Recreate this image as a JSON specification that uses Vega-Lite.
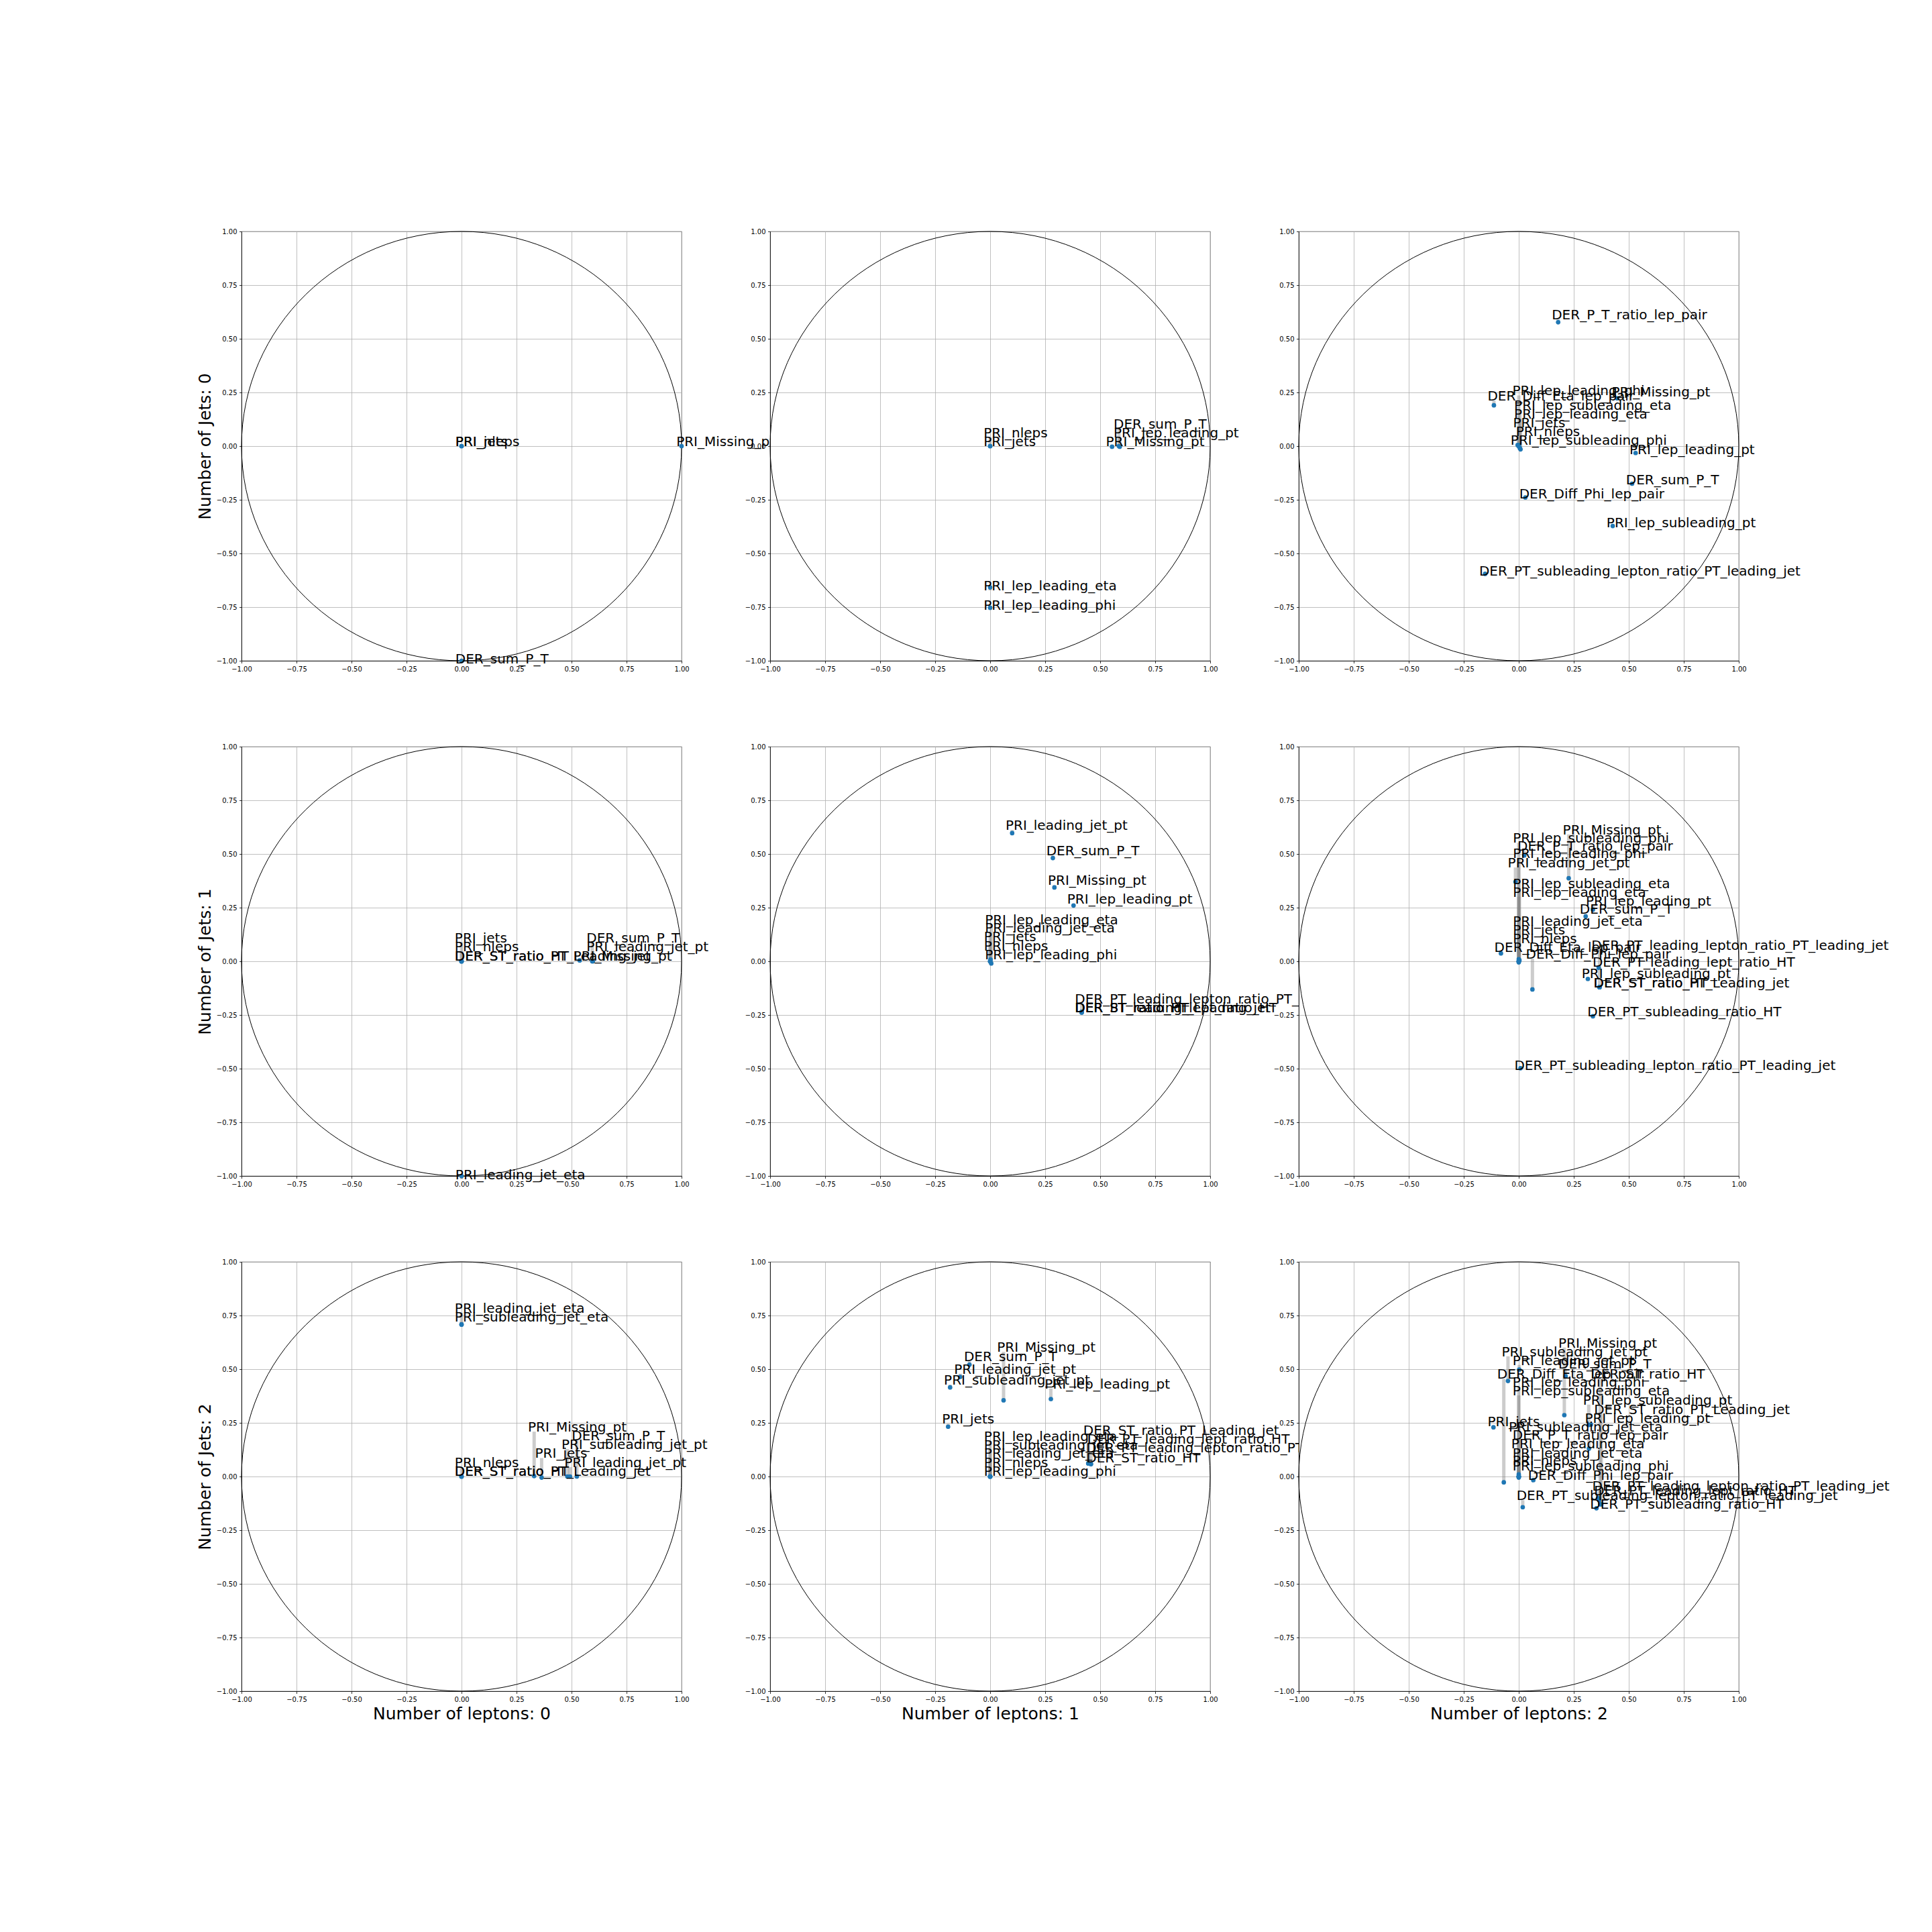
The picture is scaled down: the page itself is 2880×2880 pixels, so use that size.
{
"$schema":"https://vega.github.io/schema/vega-lite/v6.json",
"background":"white",
"padding":{"left":292,"top":339,"right":5,"bottom":5},
"bounds":"flush",
"columns":3,
"spacing":{"row":128,"column":132},
"config":{
 "font":"DejaVu Sans",
 "view":{"stroke":"black","strokeWidth":0.8,"fill":"white"},
 "axis":{"grid":true,"gridColor":"#b0b0b0","gridWidth":0.8,"gridOpacity":1,"domainColor":"black","domainWidth":0.8,"tickColor":"black","tickWidth":0.8,"tickSize":3.5,"labelPadding":3.5,"labelFontSize":10,"labelColor":"black","labelFont":"DejaVu Sans","titleFont":"DejaVu Sans","titleFontSize":25,"titleFontWeight":"normal","titleColor":"black","titlePadding":4,"labelFlush":false,"labelOverlap":false,"labelBound":false}
},
"datasets":{
"ring":[{"cx":0,"cy":0}],
"pts":[
{"p":"j0l0","v":"PRI_jets","x":0,"y":0,"lx":-0.028,"ly":0.0},
{"p":"j0l0","v":"PRI_nleps","x":0,"y":0,"lx":-0.028,"ly":0.0},
{"p":"j0l0","v":"PRI_Missing_pt","x":1.0,"y":0,"lx":0.976,"ly":0.0},
{"p":"j0l0","v":"DER_sum_P_T","x":0,"y":-1,"lx":-0.028,"ly":-1.012},
{"p":"j0l1","v":"PRI_nleps","x":0,"y":0,"lx":-0.03,"ly":0.04},
{"p":"j0l1","v":"PRI_jets","x":0,"y":0,"lx":-0.03,"ly":0.0},
{"p":"j0l1","v":"PRI_lep_leading_eta","x":0,"y":-0.658,"lx":-0.03,"ly":-0.672},
{"p":"j0l1","v":"PRI_lep_leading_phi","x":0,"y":-0.753,"lx":-0.03,"ly":-0.763},
{"p":"j0l1","v":"PRI_Missing_pt","x":0.554,"y":-0.003,"lx":0.526,"ly":0.0},
{"p":"j0l1","v":"PRI_lep_leading_pt","x":0.589,"y":-0.003,"lx":0.561,"ly":0.04},
{"p":"j0l1","v":"DER_sum_P_T","x":0.585,"y":0.0,"lx":0.561,"ly":0.082},
{"p":"j0l2","v":"DER_P_T_ratio_lep_pair","x":0.179,"y":0.577,"lx":0.15,"ly":0.592},
{"p":"j0l2","v":"DER_Diff_Eta_lep_pair","x":-0.113,"y":0.19,"lx":-0.142,"ly":0.212},
{"p":"j0l2","v":"PRI_lep_leading_phi","x":0.0,"y":0.005,"lx":-0.029,"ly":0.236},
{"p":"j0l2","v":"PRI_Missing_pt","x":0.447,"y":0.223,"lx":0.422,"ly":0.232},
{"p":"j0l2","v":"PRI_lep_subleading_eta","x":0.005,"y":-0.01,"lx":-0.021,"ly":0.17},
{"p":"j0l2","v":"PRI_lep_leading_eta","x":0.008,"y":-0.015,"lx":-0.021,"ly":0.128},
{"p":"j0l2","v":"PRI_jets","x":0,"y":0,"lx":-0.026,"ly":0.089},
{"p":"j0l2","v":"PRI_nleps","x":0,"y":0,"lx":-0.013,"ly":0.047},
{"p":"j0l2","v":"PRI_lep_subleading_phi","x":-0.005,"y":0.005,"lx":-0.037,"ly":0.006},
{"p":"j0l2","v":"PRI_lep_leading_pt","x":0.531,"y":-0.032,"lx":0.503,"ly":-0.036},
{"p":"j0l2","v":"DER_sum_P_T","x":0.515,"y":-0.175,"lx":0.487,"ly":-0.179},
{"p":"j0l2","v":"DER_Diff_Phi_lep_pair","x":0.03,"y":-0.239,"lx":0.002,"ly":-0.243},
{"p":"j0l2","v":"PRI_lep_subleading_pt","x":0.427,"y":-0.372,"lx":0.399,"ly":-0.378},
{"p":"j0l2","v":"DER_PT_subleading_lepton_ratio_PT_leading_jet","x":-0.153,"y":-0.595,"lx":-0.18,"ly":-0.602},
{"p":"j1l0","v":"PRI_jets","x":0,"y":0,"lx":-0.031,"ly":0.089},
{"p":"j1l0","v":"PRI_nleps","x":0,"y":0,"lx":-0.031,"ly":0.047},
{"p":"j1l0","v":"DER_ST_ratio_HT","x":0,"y":0,"lx":-0.031,"ly":0.002},
{"p":"j1l0","v":"DER_ST_ratio_PT_Leading_jet","x":0,"y":0,"lx":-0.031,"ly":0.002},
{"p":"j1l0","v":"PRI_Missing_pt","x":0.537,"y":0.004,"lx":0.508,"ly":0.002},
{"p":"j1l0","v":"PRI_leading_jet_pt","x":0.597,"y":0.0,"lx":0.568,"ly":0.047},
{"p":"j1l0","v":"DER_sum_P_T","x":0.594,"y":0.0,"lx":0.568,"ly":0.089},
{"p":"j1l0","v":"PRI_leading_jet_eta","x":0,"y":-1,"lx":-0.028,"ly":-1.015},
{"p":"j1l1","v":"PRI_leading_jet_pt","x":0.1,"y":0.597,"lx":0.07,"ly":0.612},
{"p":"j1l1","v":"DER_sum_P_T","x":0.285,"y":0.481,"lx":0.255,"ly":0.493},
{"p":"j1l1","v":"PRI_Missing_pt","x":0.292,"y":0.344,"lx":0.262,"ly":0.355},
{"p":"j1l1","v":"PRI_lep_leading_pt","x":0.379,"y":0.26,"lx":0.35,"ly":0.269},
{"p":"j1l1","v":"PRI_lep_leading_eta","x":0.005,"y":-0.01,"lx":-0.024,"ly":0.172},
{"p":"j1l1","v":"PRI_leading_jet_eta","x":0,"y":0,"lx":-0.024,"ly":0.133},
{"p":"j1l1","v":"PRI_jets","x":0,"y":0,"lx":-0.028,"ly":0.093},
{"p":"j1l1","v":"PRI_nleps","x":0,"y":0,"lx":-0.028,"ly":0.05},
{"p":"j1l1","v":"PRI_lep_leading_phi","x":0.002,"y":0.008,"lx":-0.024,"ly":0.008},
{"p":"j1l1","v":"DER_PT_leading_lepton_ratio_PT_leading_jet","x":0.416,"y":-0.235,"lx":0.385,"ly":-0.197},
{"p":"j1l1","v":"DER_PT_leading_lept_ratio_HT","x":0.416,"y":-0.239,"lx":0.385,"ly":-0.237},
{"p":"j1l1","v":"DER_ST_ratio_PT_Leading_jet","x":0.416,"y":-0.237,"lx":0.385,"ly":-0.237},
{"p":"j1l1","v":"DER_ST_ratio_HT","x":0.416,"y":-0.237,"lx":0.385,"ly":-0.237},
{"p":"j1l2","v":"PRI_Missing_pt","x":0.227,"y":0.387,"lx":0.2,"ly":0.591},
{"p":"j1l2","v":"PRI_lep_subleading_phi","x":0.0,"y":0.01,"lx":-0.027,"ly":0.552},
{"p":"j1l2","v":"DER_P_T_ratio_lep_pair","x":0.025,"y":0.493,"lx":-0.006,"ly":0.517},
{"p":"j1l2","v":"PRI_lep_leading_phi","x":0.0,"y":-0.005,"lx":-0.027,"ly":0.48},
{"p":"j1l2","v":"PRI_leading_jet_pt","x":-0.015,"y":0.37,"lx":-0.05,"ly":0.437},
{"p":"j1l2","v":"PRI_lep_subleading_eta","x":0.003,"y":0.005,"lx":-0.027,"ly":0.34},
{"p":"j1l2","v":"PRI_lep_leading_eta","x":0,"y":0,"lx":-0.027,"ly":0.301},
{"p":"j1l2","v":"PRI_lep_leading_pt","x":0.337,"y":0.241,"lx":0.305,"ly":0.26},
{"p":"j1l2","v":"DER_sum_P_T","x":0.304,"y":0.209,"lx":0.277,"ly":0.221},
{"p":"j1l2","v":"PRI_leading_jet_eta","x":0,"y":0,"lx":-0.027,"ly":0.165},
{"p":"j1l2","v":"PRI_jets","x":0,"y":0,"lx":-0.027,"ly":0.126},
{"p":"j1l2","v":"PRI_nleps","x":0,"y":0,"lx":-0.027,"ly":0.084},
{"p":"j1l2","v":"DER_Diff_Eta_lep_pair","x":-0.081,"y":0.037,"lx":-0.111,"ly":0.043},
{"p":"j1l2","v":"DER_PT_leading_lepton_ratio_PT_leading_jet","x":0.367,"y":-0.12,"lx":0.33,"ly":0.054},
{"p":"j1l2","v":"DER_Diff_Phi_lep_pair","x":0.062,"y":-0.131,"lx":0.032,"ly":0.012},
{"p":"j1l2","v":"DER_PT_leading_lept_ratio_HT","x":0.363,"y":-0.03,"lx":0.335,"ly":-0.026},
{"p":"j1l2","v":"PRI_lep_subleading_pt","x":0.314,"y":-0.082,"lx":0.286,"ly":-0.079},
{"p":"j1l2","v":"DER_ST_ratio_HT","x":0.367,"y":-0.121,"lx":0.34,"ly":-0.121},
{"p":"j1l2","v":"DER_ST_ratio_PT_Leading_jet","x":0.367,"y":-0.121,"lx":0.34,"ly":-0.121},
{"p":"j1l2","v":"DER_PT_subleading_ratio_HT","x":0.337,"y":-0.256,"lx":0.312,"ly":-0.256},
{"p":"j1l2","v":"DER_PT_subleading_lepton_ratio_PT_leading_jet","x":0.008,"y":-0.498,"lx":-0.02,"ly":-0.505},
{"p":"j2l0","v":"PRI_leading_jet_eta","x":0,"y":0.708,"lx":-0.031,"ly":0.763},
{"p":"j2l0","v":"PRI_subleading_jet_eta","x":0,"y":0.708,"lx":-0.031,"ly":0.721},
{"p":"j2l0","v":"PRI_Missing_pt","x":0.33,"y":0.002,"lx":0.302,"ly":0.209},
{"p":"j2l0","v":"DER_sum_P_T","x":0.524,"y":0.0,"lx":0.501,"ly":0.17},
{"p":"j2l0","v":"PRI_subleading_jet_pt","x":0.481,"y":0.0,"lx":0.454,"ly":0.128},
{"p":"j2l0","v":"PRI_jets","x":0.364,"y":-0.005,"lx":0.334,"ly":0.086},
{"p":"j2l0","v":"PRI_leading_jet_pt","x":0.493,"y":0.0,"lx":0.467,"ly":0.044},
{"p":"j2l0","v":"PRI_nleps","x":0,"y":0,"lx":-0.031,"ly":0.044},
{"p":"j2l0","v":"DER_ST_ratio_HT","x":0,"y":0,"lx":-0.031,"ly":0.002},
{"p":"j2l0","v":"DER_ST_ratio_PT_Leading_jet","x":0,"y":0,"lx":-0.031,"ly":0.002},
{"p":"j2l1","v":"PRI_Missing_pt","x":0.061,"y":0.355,"lx":0.031,"ly":0.581},
{"p":"j2l1","v":"DER_sum_P_T","x":-0.094,"y":0.521,"lx":-0.119,"ly":0.537},
{"p":"j2l1","v":"PRI_leading_jet_pt","x":-0.136,"y":0.464,"lx":-0.164,"ly":0.479},
{"p":"j2l1","v":"PRI_subleading_jet_pt","x":-0.182,"y":0.415,"lx":-0.21,"ly":0.428},
{"p":"j2l1","v":"PRI_lep_leading_pt","x":0.276,"y":0.361,"lx":0.248,"ly":0.41},
{"p":"j2l1","v":"PRI_jets","x":-0.191,"y":0.232,"lx":-0.219,"ly":0.246},
{"p":"j2l1","v":"PRI_lep_leading_eta","x":0,"y":0,"lx":-0.028,"ly":0.165},
{"p":"j2l1","v":"PRI_subleading_jet_eta","x":0,"y":0,"lx":-0.028,"ly":0.125},
{"p":"j2l1","v":"PRI_leading_jet_eta","x":0,"y":0,"lx":-0.028,"ly":0.086},
{"p":"j2l1","v":"PRI_nleps","x":0,"y":0,"lx":-0.028,"ly":0.044},
{"p":"j2l1","v":"PRI_lep_leading_phi","x":0,"y":0,"lx":-0.028,"ly":0.002},
{"p":"j2l1","v":"DER_ST_ratio_PT_Leading_jet","x":0.446,"y":0.061,"lx":0.423,"ly":0.195},
{"p":"j2l1","v":"DER_PT_leading_lept_ratio_HT","x":0.446,"y":0.061,"lx":0.441,"ly":0.153},
{"p":"j2l1","v":"DER_PT_leading_lepton_ratio_PT_leading_jet","x":0.458,"y":0.058,"lx":0.437,"ly":0.111},
{"p":"j2l1","v":"DER_ST_ratio_HT","x":0.458,"y":0.058,"lx":0.437,"ly":0.065},
{"p":"j2l2","v":"PRI_Missing_pt","x":0.207,"y":0.286,"lx":0.18,"ly":0.601},
{"p":"j2l2","v":"PRI_subleading_jet_pt","x":-0.049,"y":0.445,"lx":-0.078,"ly":0.56},
{"p":"j2l2","v":"PRI_leading_jet_pt","x":0.002,"y":0.498,"lx":-0.028,"ly":0.52},
{"p":"j2l2","v":"DER_sum_P_T","x":0.213,"y":0.467,"lx":0.18,"ly":0.502},
{"p":"j2l2","v":"DER_Diff_Eta_lep_pair","x":-0.068,"y":-0.027,"lx":-0.098,"ly":0.455},
{"p":"j2l2","v":"DER_ST_ratio_HT","x":0.37,"y":-0.129,"lx":0.327,"ly":0.455},
{"p":"j2l2","v":"PRI_lep_leading_phi","x":0,"y":0.01,"lx":-0.028,"ly":0.418},
{"p":"j2l2","v":"PRI_lep_subleading_eta","x":0,"y":-0.005,"lx":-0.028,"ly":0.378},
{"p":"j2l2","v":"PRI_lep_subleading_pt","x":0.318,"y":0.24,"lx":0.292,"ly":0.335},
{"p":"j2l2","v":"DER_ST_ratio_PT_Leading_jet","x":0.375,"y":-0.13,"lx":0.342,"ly":0.292},
{"p":"j2l2","v":"PRI_lep_leading_pt","x":0.328,"y":0.242,"lx":0.3,"ly":0.251},
{"p":"j2l2","v":"PRI_jets","x":-0.115,"y":0.229,"lx":-0.142,"ly":0.235},
{"p":"j2l2","v":"PRI_subleading_jet_eta","x":0,"y":0,"lx":-0.046,"ly":0.208},
{"p":"j2l2","v":"DER_P_T_ratio_lep_pair","x":0.319,"y":0.13,"lx":-0.028,"ly":0.171},
{"p":"j2l2","v":"PRI_lep_leading_eta","x":0,"y":0,"lx":-0.034,"ly":0.131},
{"p":"j2l2","v":"PRI_leading_jet_eta","x":0,"y":0,"lx":-0.028,"ly":0.088},
{"p":"j2l2","v":"PRI_nleps","x":0,"y":0,"lx":-0.028,"ly":0.053},
{"p":"j2l2","v":"PRI_lep_subleading_phi","x":0,"y":0,"lx":-0.028,"ly":0.028},
{"p":"j2l2","v":"DER_Diff_Phi_lep_pair","x":0.066,"y":-0.017,"lx":0.042,"ly":-0.015},
{"p":"j2l2","v":"DER_PT_leading_lepton_ratio_PT_leading_jet","x":0.365,"y":-0.11,"lx":0.334,"ly":-0.067},
{"p":"j2l2","v":"DER_PT_leading_lept_ratio_HT","x":0.36,"y":-0.1,"lx":0.342,"ly":-0.087},
{"p":"j2l2","v":"DER_PT_subleading_lepton_ratio_PT_leading_jet","x":0.018,"y":-0.143,"lx":-0.01,"ly":-0.11},
{"p":"j2l2","v":"DER_PT_subleading_ratio_HT","x":0.353,"y":-0.148,"lx":0.324,"ly":-0.151}
]},
"concat":[
{"width":656,"height":640,"layer":[
{"data":{"name":"ring"},"mark":{"type":"point","shape":"M -1 0 A 1 0.97561 0 1 1 1 0 A 1 0.97561 0 1 1 -1 0 Z","size":430336,"filled":false,"stroke":"black","strokeWidth":1,"opacity":1},"encoding":{"x":{"field":"cx","type":"quantitative","scale":{"domain":[-1,1],"nice":false,"zero":false},"axis":{"values":[-1,-0.75,-0.5,-0.25,0,0.25,0.5,0.75,1],"format":".2f","title":null}},"y":{"field":"cy","type":"quantitative","scale":{"domain":[-1,1],"nice":false,"zero":false},"axis":{"values":[-1,-0.75,-0.5,-0.25,0,0.25,0.5,0.75,1],"format":".2f","title":"Number of Jets: 0"}}}},
{"data":{"name":"pts"},"transform":[{"filter":"datum.p==='j0l0'"}],"mark":{"type":"rule","color":"gray","opacity":0.4,"strokeWidth":5},"encoding":{"x":{"field":"x","type":"quantitative","axis":{"values":[-1,-0.75,-0.5,-0.25,0,0.25,0.5,0.75,1],"format":".2f","title":null}},"y":{"field":"ly","type":"quantitative","axis":{"values":[-1,-0.75,-0.5,-0.25,0,0.25,0.5,0.75,1],"format":".2f","title":"Number of Jets: 0"}},"y2":{"field":"y"}}},
{"data":{"name":"pts"},"transform":[{"filter":"datum.p==='j0l0'"}],"mark":{"type":"point","filled":true,"color":"#1f77b4","size":45,"opacity":1},"encoding":{"x":{"field":"x","type":"quantitative","axis":{"values":[-1,-0.75,-0.5,-0.25,0,0.25,0.5,0.75,1],"format":".2f","title":null}},"y":{"field":"y","type":"quantitative","axis":{"values":[-1,-0.75,-0.5,-0.25,0,0.25,0.5,0.75,1],"format":".2f","title":"Number of Jets: 0"}}}},
{"data":{"name":"pts"},"transform":[{"filter":"datum.p==='j0l0'"}],"mark":{"type":"text","align":"left","baseline":"alphabetic","fontSize":20,"color":"black","font":"DejaVu Sans"},"encoding":{"x":{"field":"lx","type":"quantitative","axis":{"values":[-1,-0.75,-0.5,-0.25,0,0.25,0.5,0.75,1],"format":".2f","title":null}},"y":{"field":"ly","type":"quantitative","axis":{"values":[-1,-0.75,-0.5,-0.25,0,0.25,0.5,0.75,1],"format":".2f","title":"Number of Jets: 0"}},"text":{"field":"v"}}}
]},
{"width":656,"height":640,"layer":[
{"data":{"name":"ring"},"mark":{"type":"point","shape":"M -1 0 A 1 0.97561 0 1 1 1 0 A 1 0.97561 0 1 1 -1 0 Z","size":430336,"filled":false,"stroke":"black","strokeWidth":1,"opacity":1},"encoding":{"x":{"field":"cx","type":"quantitative","scale":{"domain":[-1,1],"nice":false,"zero":false},"axis":{"values":[-1,-0.75,-0.5,-0.25,0,0.25,0.5,0.75,1],"format":".2f","title":null}},"y":{"field":"cy","type":"quantitative","scale":{"domain":[-1,1],"nice":false,"zero":false},"axis":{"values":[-1,-0.75,-0.5,-0.25,0,0.25,0.5,0.75,1],"format":".2f","title":null}}}},
{"data":{"name":"pts"},"transform":[{"filter":"datum.p==='j0l1'"}],"mark":{"type":"rule","color":"gray","opacity":0.4,"strokeWidth":5},"encoding":{"x":{"field":"x","type":"quantitative","axis":{"values":[-1,-0.75,-0.5,-0.25,0,0.25,0.5,0.75,1],"format":".2f","title":null}},"y":{"field":"ly","type":"quantitative","axis":{"values":[-1,-0.75,-0.5,-0.25,0,0.25,0.5,0.75,1],"format":".2f","title":null}},"y2":{"field":"y"}}},
{"data":{"name":"pts"},"transform":[{"filter":"datum.p==='j0l1'"}],"mark":{"type":"point","filled":true,"color":"#1f77b4","size":45,"opacity":1},"encoding":{"x":{"field":"x","type":"quantitative","axis":{"values":[-1,-0.75,-0.5,-0.25,0,0.25,0.5,0.75,1],"format":".2f","title":null}},"y":{"field":"y","type":"quantitative","axis":{"values":[-1,-0.75,-0.5,-0.25,0,0.25,0.5,0.75,1],"format":".2f","title":null}}}},
{"data":{"name":"pts"},"transform":[{"filter":"datum.p==='j0l1'"}],"mark":{"type":"text","align":"left","baseline":"alphabetic","fontSize":20,"color":"black","font":"DejaVu Sans"},"encoding":{"x":{"field":"lx","type":"quantitative","axis":{"values":[-1,-0.75,-0.5,-0.25,0,0.25,0.5,0.75,1],"format":".2f","title":null}},"y":{"field":"ly","type":"quantitative","axis":{"values":[-1,-0.75,-0.5,-0.25,0,0.25,0.5,0.75,1],"format":".2f","title":null}},"text":{"field":"v"}}}
]},
{"width":656,"height":640,"layer":[
{"data":{"name":"ring"},"mark":{"type":"point","shape":"M -1 0 A 1 0.97561 0 1 1 1 0 A 1 0.97561 0 1 1 -1 0 Z","size":430336,"filled":false,"stroke":"black","strokeWidth":1,"opacity":1},"encoding":{"x":{"field":"cx","type":"quantitative","scale":{"domain":[-1,1],"nice":false,"zero":false},"axis":{"values":[-1,-0.75,-0.5,-0.25,0,0.25,0.5,0.75,1],"format":".2f","title":null}},"y":{"field":"cy","type":"quantitative","scale":{"domain":[-1,1],"nice":false,"zero":false},"axis":{"values":[-1,-0.75,-0.5,-0.25,0,0.25,0.5,0.75,1],"format":".2f","title":null}}}},
{"data":{"name":"pts"},"transform":[{"filter":"datum.p==='j0l2'"}],"mark":{"type":"rule","color":"gray","opacity":0.4,"strokeWidth":5},"encoding":{"x":{"field":"x","type":"quantitative","axis":{"values":[-1,-0.75,-0.5,-0.25,0,0.25,0.5,0.75,1],"format":".2f","title":null}},"y":{"field":"ly","type":"quantitative","axis":{"values":[-1,-0.75,-0.5,-0.25,0,0.25,0.5,0.75,1],"format":".2f","title":null}},"y2":{"field":"y"}}},
{"data":{"name":"pts"},"transform":[{"filter":"datum.p==='j0l2'"}],"mark":{"type":"point","filled":true,"color":"#1f77b4","size":45,"opacity":1},"encoding":{"x":{"field":"x","type":"quantitative","axis":{"values":[-1,-0.75,-0.5,-0.25,0,0.25,0.5,0.75,1],"format":".2f","title":null}},"y":{"field":"y","type":"quantitative","axis":{"values":[-1,-0.75,-0.5,-0.25,0,0.25,0.5,0.75,1],"format":".2f","title":null}}}},
{"data":{"name":"pts"},"transform":[{"filter":"datum.p==='j0l2'"}],"mark":{"type":"text","align":"left","baseline":"alphabetic","fontSize":20,"color":"black","font":"DejaVu Sans"},"encoding":{"x":{"field":"lx","type":"quantitative","axis":{"values":[-1,-0.75,-0.5,-0.25,0,0.25,0.5,0.75,1],"format":".2f","title":null}},"y":{"field":"ly","type":"quantitative","axis":{"values":[-1,-0.75,-0.5,-0.25,0,0.25,0.5,0.75,1],"format":".2f","title":null}},"text":{"field":"v"}}}
]},
{"width":656,"height":640,"layer":[
{"data":{"name":"ring"},"mark":{"type":"point","shape":"M -1 0 A 1 0.97561 0 1 1 1 0 A 1 0.97561 0 1 1 -1 0 Z","size":430336,"filled":false,"stroke":"black","strokeWidth":1,"opacity":1},"encoding":{"x":{"field":"cx","type":"quantitative","scale":{"domain":[-1,1],"nice":false,"zero":false},"axis":{"values":[-1,-0.75,-0.5,-0.25,0,0.25,0.5,0.75,1],"format":".2f","title":null}},"y":{"field":"cy","type":"quantitative","scale":{"domain":[-1,1],"nice":false,"zero":false},"axis":{"values":[-1,-0.75,-0.5,-0.25,0,0.25,0.5,0.75,1],"format":".2f","title":"Number of Jets: 1"}}}},
{"data":{"name":"pts"},"transform":[{"filter":"datum.p==='j1l0'"}],"mark":{"type":"rule","color":"gray","opacity":0.4,"strokeWidth":5},"encoding":{"x":{"field":"x","type":"quantitative","axis":{"values":[-1,-0.75,-0.5,-0.25,0,0.25,0.5,0.75,1],"format":".2f","title":null}},"y":{"field":"ly","type":"quantitative","axis":{"values":[-1,-0.75,-0.5,-0.25,0,0.25,0.5,0.75,1],"format":".2f","title":"Number of Jets: 1"}},"y2":{"field":"y"}}},
{"data":{"name":"pts"},"transform":[{"filter":"datum.p==='j1l0'"}],"mark":{"type":"point","filled":true,"color":"#1f77b4","size":45,"opacity":1},"encoding":{"x":{"field":"x","type":"quantitative","axis":{"values":[-1,-0.75,-0.5,-0.25,0,0.25,0.5,0.75,1],"format":".2f","title":null}},"y":{"field":"y","type":"quantitative","axis":{"values":[-1,-0.75,-0.5,-0.25,0,0.25,0.5,0.75,1],"format":".2f","title":"Number of Jets: 1"}}}},
{"data":{"name":"pts"},"transform":[{"filter":"datum.p==='j1l0'"}],"mark":{"type":"text","align":"left","baseline":"alphabetic","fontSize":20,"color":"black","font":"DejaVu Sans"},"encoding":{"x":{"field":"lx","type":"quantitative","axis":{"values":[-1,-0.75,-0.5,-0.25,0,0.25,0.5,0.75,1],"format":".2f","title":null}},"y":{"field":"ly","type":"quantitative","axis":{"values":[-1,-0.75,-0.5,-0.25,0,0.25,0.5,0.75,1],"format":".2f","title":"Number of Jets: 1"}},"text":{"field":"v"}}}
]},
{"width":656,"height":640,"layer":[
{"data":{"name":"ring"},"mark":{"type":"point","shape":"M -1 0 A 1 0.97561 0 1 1 1 0 A 1 0.97561 0 1 1 -1 0 Z","size":430336,"filled":false,"stroke":"black","strokeWidth":1,"opacity":1},"encoding":{"x":{"field":"cx","type":"quantitative","scale":{"domain":[-1,1],"nice":false,"zero":false},"axis":{"values":[-1,-0.75,-0.5,-0.25,0,0.25,0.5,0.75,1],"format":".2f","title":null}},"y":{"field":"cy","type":"quantitative","scale":{"domain":[-1,1],"nice":false,"zero":false},"axis":{"values":[-1,-0.75,-0.5,-0.25,0,0.25,0.5,0.75,1],"format":".2f","title":null}}}},
{"data":{"name":"pts"},"transform":[{"filter":"datum.p==='j1l1'"}],"mark":{"type":"rule","color":"gray","opacity":0.4,"strokeWidth":5},"encoding":{"x":{"field":"x","type":"quantitative","axis":{"values":[-1,-0.75,-0.5,-0.25,0,0.25,0.5,0.75,1],"format":".2f","title":null}},"y":{"field":"ly","type":"quantitative","axis":{"values":[-1,-0.75,-0.5,-0.25,0,0.25,0.5,0.75,1],"format":".2f","title":null}},"y2":{"field":"y"}}},
{"data":{"name":"pts"},"transform":[{"filter":"datum.p==='j1l1'"}],"mark":{"type":"point","filled":true,"color":"#1f77b4","size":45,"opacity":1},"encoding":{"x":{"field":"x","type":"quantitative","axis":{"values":[-1,-0.75,-0.5,-0.25,0,0.25,0.5,0.75,1],"format":".2f","title":null}},"y":{"field":"y","type":"quantitative","axis":{"values":[-1,-0.75,-0.5,-0.25,0,0.25,0.5,0.75,1],"format":".2f","title":null}}}},
{"data":{"name":"pts"},"transform":[{"filter":"datum.p==='j1l1'"}],"mark":{"type":"text","align":"left","baseline":"alphabetic","fontSize":20,"color":"black","font":"DejaVu Sans"},"encoding":{"x":{"field":"lx","type":"quantitative","axis":{"values":[-1,-0.75,-0.5,-0.25,0,0.25,0.5,0.75,1],"format":".2f","title":null}},"y":{"field":"ly","type":"quantitative","axis":{"values":[-1,-0.75,-0.5,-0.25,0,0.25,0.5,0.75,1],"format":".2f","title":null}},"text":{"field":"v"}}}
]},
{"width":656,"height":640,"layer":[
{"data":{"name":"ring"},"mark":{"type":"point","shape":"M -1 0 A 1 0.97561 0 1 1 1 0 A 1 0.97561 0 1 1 -1 0 Z","size":430336,"filled":false,"stroke":"black","strokeWidth":1,"opacity":1},"encoding":{"x":{"field":"cx","type":"quantitative","scale":{"domain":[-1,1],"nice":false,"zero":false},"axis":{"values":[-1,-0.75,-0.5,-0.25,0,0.25,0.5,0.75,1],"format":".2f","title":null}},"y":{"field":"cy","type":"quantitative","scale":{"domain":[-1,1],"nice":false,"zero":false},"axis":{"values":[-1,-0.75,-0.5,-0.25,0,0.25,0.5,0.75,1],"format":".2f","title":null}}}},
{"data":{"name":"pts"},"transform":[{"filter":"datum.p==='j1l2'"}],"mark":{"type":"rule","color":"gray","opacity":0.4,"strokeWidth":5},"encoding":{"x":{"field":"x","type":"quantitative","axis":{"values":[-1,-0.75,-0.5,-0.25,0,0.25,0.5,0.75,1],"format":".2f","title":null}},"y":{"field":"ly","type":"quantitative","axis":{"values":[-1,-0.75,-0.5,-0.25,0,0.25,0.5,0.75,1],"format":".2f","title":null}},"y2":{"field":"y"}}},
{"data":{"name":"pts"},"transform":[{"filter":"datum.p==='j1l2'"}],"mark":{"type":"point","filled":true,"color":"#1f77b4","size":45,"opacity":1},"encoding":{"x":{"field":"x","type":"quantitative","axis":{"values":[-1,-0.75,-0.5,-0.25,0,0.25,0.5,0.75,1],"format":".2f","title":null}},"y":{"field":"y","type":"quantitative","axis":{"values":[-1,-0.75,-0.5,-0.25,0,0.25,0.5,0.75,1],"format":".2f","title":null}}}},
{"data":{"name":"pts"},"transform":[{"filter":"datum.p==='j1l2'"}],"mark":{"type":"text","align":"left","baseline":"alphabetic","fontSize":20,"color":"black","font":"DejaVu Sans"},"encoding":{"x":{"field":"lx","type":"quantitative","axis":{"values":[-1,-0.75,-0.5,-0.25,0,0.25,0.5,0.75,1],"format":".2f","title":null}},"y":{"field":"ly","type":"quantitative","axis":{"values":[-1,-0.75,-0.5,-0.25,0,0.25,0.5,0.75,1],"format":".2f","title":null}},"text":{"field":"v"}}}
]},
{"width":656,"height":640,"layer":[
{"data":{"name":"ring"},"mark":{"type":"point","shape":"M -1 0 A 1 0.97561 0 1 1 1 0 A 1 0.97561 0 1 1 -1 0 Z","size":430336,"filled":false,"stroke":"black","strokeWidth":1,"opacity":1},"encoding":{"x":{"field":"cx","type":"quantitative","scale":{"domain":[-1,1],"nice":false,"zero":false},"axis":{"values":[-1,-0.75,-0.5,-0.25,0,0.25,0.5,0.75,1],"format":".2f","title":"Number of leptons: 0"}},"y":{"field":"cy","type":"quantitative","scale":{"domain":[-1,1],"nice":false,"zero":false},"axis":{"values":[-1,-0.75,-0.5,-0.25,0,0.25,0.5,0.75,1],"format":".2f","title":"Number of Jets: 2"}}}},
{"data":{"name":"pts"},"transform":[{"filter":"datum.p==='j2l0'"}],"mark":{"type":"rule","color":"gray","opacity":0.4,"strokeWidth":5},"encoding":{"x":{"field":"x","type":"quantitative","axis":{"values":[-1,-0.75,-0.5,-0.25,0,0.25,0.5,0.75,1],"format":".2f","title":"Number of leptons: 0"}},"y":{"field":"ly","type":"quantitative","axis":{"values":[-1,-0.75,-0.5,-0.25,0,0.25,0.5,0.75,1],"format":".2f","title":"Number of Jets: 2"}},"y2":{"field":"y"}}},
{"data":{"name":"pts"},"transform":[{"filter":"datum.p==='j2l0'"}],"mark":{"type":"point","filled":true,"color":"#1f77b4","size":45,"opacity":1},"encoding":{"x":{"field":"x","type":"quantitative","axis":{"values":[-1,-0.75,-0.5,-0.25,0,0.25,0.5,0.75,1],"format":".2f","title":"Number of leptons: 0"}},"y":{"field":"y","type":"quantitative","axis":{"values":[-1,-0.75,-0.5,-0.25,0,0.25,0.5,0.75,1],"format":".2f","title":"Number of Jets: 2"}}}},
{"data":{"name":"pts"},"transform":[{"filter":"datum.p==='j2l0'"}],"mark":{"type":"text","align":"left","baseline":"alphabetic","fontSize":20,"color":"black","font":"DejaVu Sans"},"encoding":{"x":{"field":"lx","type":"quantitative","axis":{"values":[-1,-0.75,-0.5,-0.25,0,0.25,0.5,0.75,1],"format":".2f","title":"Number of leptons: 0"}},"y":{"field":"ly","type":"quantitative","axis":{"values":[-1,-0.75,-0.5,-0.25,0,0.25,0.5,0.75,1],"format":".2f","title":"Number of Jets: 2"}},"text":{"field":"v"}}}
]},
{"width":656,"height":640,"layer":[
{"data":{"name":"ring"},"mark":{"type":"point","shape":"M -1 0 A 1 0.97561 0 1 1 1 0 A 1 0.97561 0 1 1 -1 0 Z","size":430336,"filled":false,"stroke":"black","strokeWidth":1,"opacity":1},"encoding":{"x":{"field":"cx","type":"quantitative","scale":{"domain":[-1,1],"nice":false,"zero":false},"axis":{"values":[-1,-0.75,-0.5,-0.25,0,0.25,0.5,0.75,1],"format":".2f","title":"Number of leptons: 1"}},"y":{"field":"cy","type":"quantitative","scale":{"domain":[-1,1],"nice":false,"zero":false},"axis":{"values":[-1,-0.75,-0.5,-0.25,0,0.25,0.5,0.75,1],"format":".2f","title":null}}}},
{"data":{"name":"pts"},"transform":[{"filter":"datum.p==='j2l1'"}],"mark":{"type":"rule","color":"gray","opacity":0.4,"strokeWidth":5},"encoding":{"x":{"field":"x","type":"quantitative","axis":{"values":[-1,-0.75,-0.5,-0.25,0,0.25,0.5,0.75,1],"format":".2f","title":"Number of leptons: 1"}},"y":{"field":"ly","type":"quantitative","axis":{"values":[-1,-0.75,-0.5,-0.25,0,0.25,0.5,0.75,1],"format":".2f","title":null}},"y2":{"field":"y"}}},
{"data":{"name":"pts"},"transform":[{"filter":"datum.p==='j2l1'"}],"mark":{"type":"point","filled":true,"color":"#1f77b4","size":45,"opacity":1},"encoding":{"x":{"field":"x","type":"quantitative","axis":{"values":[-1,-0.75,-0.5,-0.25,0,0.25,0.5,0.75,1],"format":".2f","title":"Number of leptons: 1"}},"y":{"field":"y","type":"quantitative","axis":{"values":[-1,-0.75,-0.5,-0.25,0,0.25,0.5,0.75,1],"format":".2f","title":null}}}},
{"data":{"name":"pts"},"transform":[{"filter":"datum.p==='j2l1'"}],"mark":{"type":"text","align":"left","baseline":"alphabetic","fontSize":20,"color":"black","font":"DejaVu Sans"},"encoding":{"x":{"field":"lx","type":"quantitative","axis":{"values":[-1,-0.75,-0.5,-0.25,0,0.25,0.5,0.75,1],"format":".2f","title":"Number of leptons: 1"}},"y":{"field":"ly","type":"quantitative","axis":{"values":[-1,-0.75,-0.5,-0.25,0,0.25,0.5,0.75,1],"format":".2f","title":null}},"text":{"field":"v"}}}
]},
{"width":656,"height":640,"layer":[
{"data":{"name":"ring"},"mark":{"type":"point","shape":"M -1 0 A 1 0.97561 0 1 1 1 0 A 1 0.97561 0 1 1 -1 0 Z","size":430336,"filled":false,"stroke":"black","strokeWidth":1,"opacity":1},"encoding":{"x":{"field":"cx","type":"quantitative","scale":{"domain":[-1,1],"nice":false,"zero":false},"axis":{"values":[-1,-0.75,-0.5,-0.25,0,0.25,0.5,0.75,1],"format":".2f","title":"Number of leptons: 2"}},"y":{"field":"cy","type":"quantitative","scale":{"domain":[-1,1],"nice":false,"zero":false},"axis":{"values":[-1,-0.75,-0.5,-0.25,0,0.25,0.5,0.75,1],"format":".2f","title":null}}}},
{"data":{"name":"pts"},"transform":[{"filter":"datum.p==='j2l2'"}],"mark":{"type":"rule","color":"gray","opacity":0.4,"strokeWidth":5},"encoding":{"x":{"field":"x","type":"quantitative","axis":{"values":[-1,-0.75,-0.5,-0.25,0,0.25,0.5,0.75,1],"format":".2f","title":"Number of leptons: 2"}},"y":{"field":"ly","type":"quantitative","axis":{"values":[-1,-0.75,-0.5,-0.25,0,0.25,0.5,0.75,1],"format":".2f","title":null}},"y2":{"field":"y"}}},
{"data":{"name":"pts"},"transform":[{"filter":"datum.p==='j2l2'"}],"mark":{"type":"point","filled":true,"color":"#1f77b4","size":45,"opacity":1},"encoding":{"x":{"field":"x","type":"quantitative","axis":{"values":[-1,-0.75,-0.5,-0.25,0,0.25,0.5,0.75,1],"format":".2f","title":"Number of leptons: 2"}},"y":{"field":"y","type":"quantitative","axis":{"values":[-1,-0.75,-0.5,-0.25,0,0.25,0.5,0.75,1],"format":".2f","title":null}}}},
{"data":{"name":"pts"},"transform":[{"filter":"datum.p==='j2l2'"}],"mark":{"type":"text","align":"left","baseline":"alphabetic","fontSize":20,"color":"black","font":"DejaVu Sans"},"encoding":{"x":{"field":"lx","type":"quantitative","axis":{"values":[-1,-0.75,-0.5,-0.25,0,0.25,0.5,0.75,1],"format":".2f","title":"Number of leptons: 2"}},"y":{"field":"ly","type":"quantitative","axis":{"values":[-1,-0.75,-0.5,-0.25,0,0.25,0.5,0.75,1],"format":".2f","title":null}},"text":{"field":"v"}}}
]}
]
}
